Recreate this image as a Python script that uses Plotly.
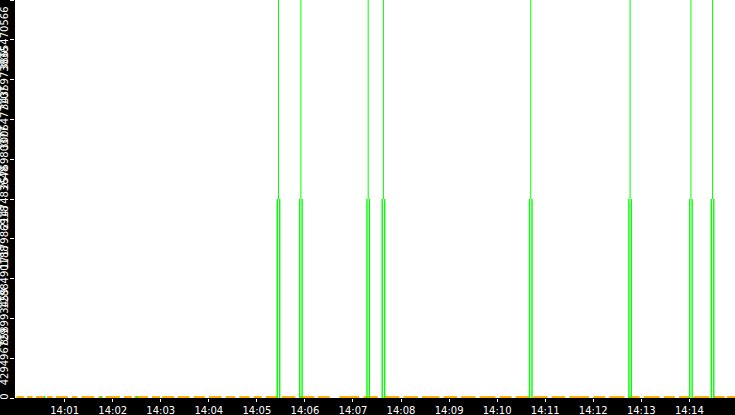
import pandas as pd
import plotly.graph_objects as go

# all times are seconds after 14:00:00
base = pd.Timestamp("2024-01-01 14:00:00")

event_secs = [327, 355, 439, 458, 642, 766, 842, 869]
peak_values = [4294967295] * 8
mid_values = [2147483648] * 8

orange_start = [0, 13, 24, 38, 49, 69, 81, 102, 111, 134, 147, 169, 182, 201, 221, 240,
                261, 278, 296, 311, 331, 353, 376, 403, 433, 458, 483, 506, 533, 555, 578,
                603, 623, 645, 668, 690, 720, 740, 764, 783, 808, 827, 845, 870, 887]
orange_end = [9, 20, 34, 45, 64, 76, 97, 107, 129, 144, 164, 179, 197, 216, 235, 256,
              273, 291, 306, 326, 348, 372, 391, 428, 451, 478, 501, 528, 550, 573, 598,
              618, 640, 663, 685, 715, 735, 759, 778, 803, 822, 840, 865, 884, 897]

green_low_secs = [35, 106, 150]

tick_minutes = list(range(1, 15))

y_max = 4294967296
y_ticks = [0, 429496729, 858993459, 1288490188, 1717986918, 2147483648,
           2576980377, 3006477107, 3435973836, 3865470566, 4294967296]


def t(s):
    return base + pd.Timedelta(seconds=s)


half = 1.5  # seconds between the centre spike and the bar edges

fig = go.Figure()

# orange low series along the floor
ox, oy = [], []
for a, b in zip(orange_start, orange_end):
    ox += [t(a), t(b), None]
    oy += [0, 0, None]
fig.add_trace(go.Scatter(x=ox, y=oy, mode="lines", line=dict(color="#ffb000", width=4),
                         hoverinfo="skip"))

gx, gy = [], []
for s in green_low_secs:
    gx += [t(s - 1), t(s + 1), None]
    gy += [0, 0, None]
fig.add_trace(go.Scatter(x=gx, y=gy, mode="lines", line=dict(color="#00ff00", width=4),
                         hoverinfo="skip"))

# bar edges from the floor up to the middle value
bx, by = [], []
for s, v in zip(event_secs, mid_values):
    bx += [t(s - half), t(s - half), None, t(s + half), t(s + half), None]
    by += [0, v, None, 0, v, None]
fig.add_trace(go.Scatter(x=bx, y=by, mode="lines", line=dict(color="#00ff00", width=1.4),
                         hoverinfo="skip"))

# centre spikes from the middle value to the peak
sx, sy = [], []
for s, lo, hi in zip(event_secs, mid_values, peak_values):
    sx += [t(s), t(s), None]
    sy += [lo, hi, None]
fig.add_trace(go.Scatter(x=sx, y=sy, mode="lines", line=dict(color="#00ff00", width=1),
                         hoverinfo="skip"))

fig.update_layout(
    width=735, height=415,
    margin=dict(l=15, r=0, t=0, b=17),
    paper_bgcolor="black", plot_bgcolor="white",
    showlegend=False,
    font=dict(family="DejaVu Sans", color="white"),
)
fig.update_xaxes(
    type="date", range=[t(-2), t(897)],
    tickvals=[t(m * 60) for m in tick_minutes], tickformat="%H:%M",
    ticks="outside", ticklen=3, tickcolor="white",
    tickfont=dict(size=10, color="white"),
    showgrid=False, zeroline=False, showline=False, automargin=False,
)
fig.update_yaxes(
    range=[0, y_max],
    tickvals=y_ticks, ticktext=[str(v) for v in y_ticks], tickangle=-90,
    ticks="outside", ticklen=4, tickcolor="white", ticklabelstandoff=-2,
    tickfont=dict(size=10, color="white"),
    showgrid=False, zeroline=False, showline=False, automargin=False,
)

fig.write_html("out.html", config={"displayModeBar": False},
               post_script="document.body.style.margin='0';")
